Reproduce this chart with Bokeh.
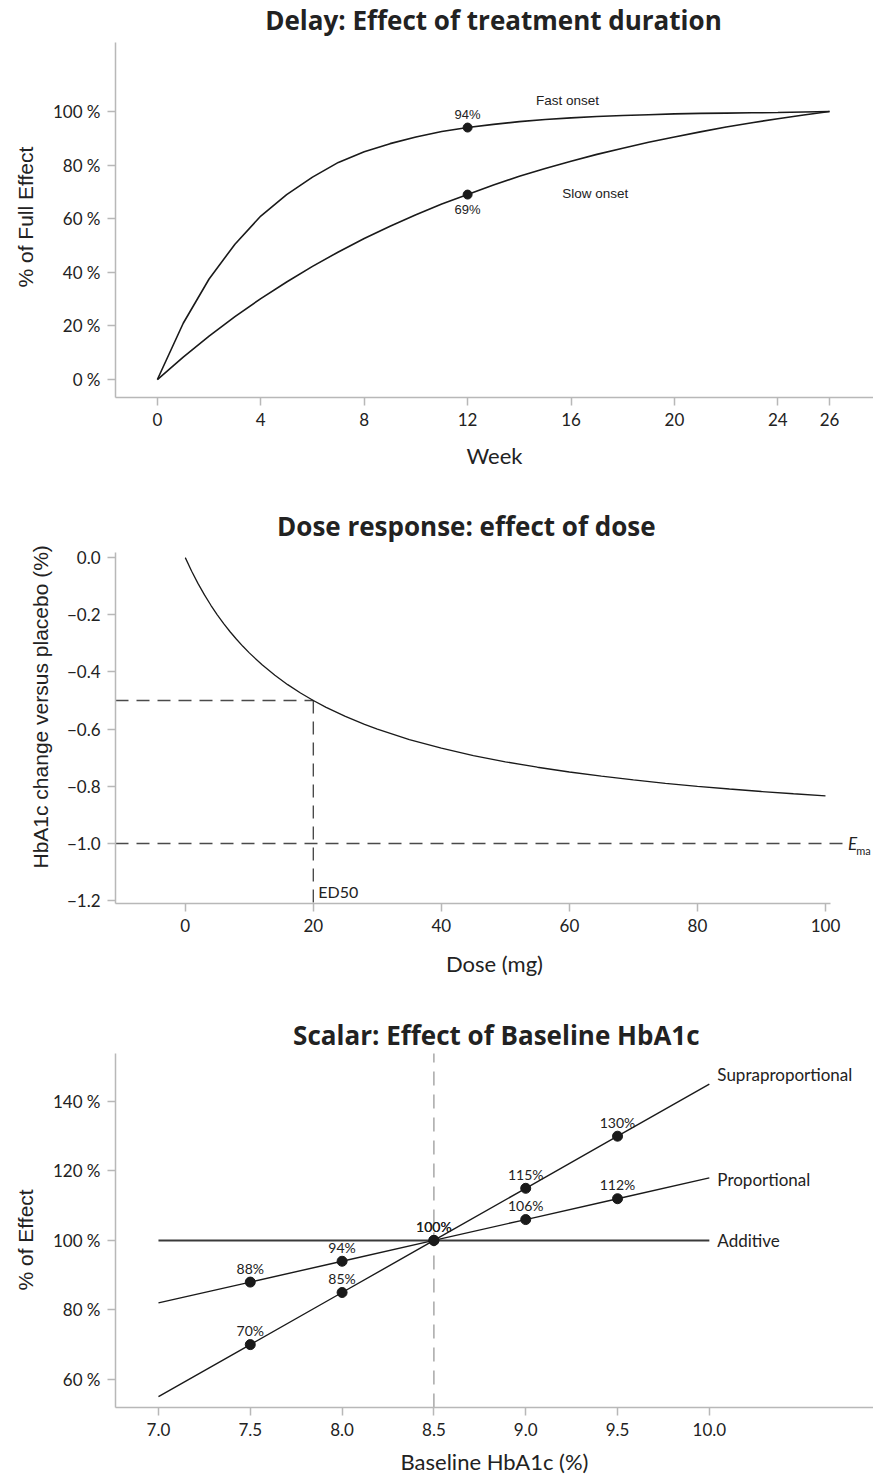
from bokeh.plotting import figure
from bokeh.layouts import column
from bokeh.models import FixedTicker, CustomJSTickFormatter, Label, ColumnDataSource, Title
from bokeh.core.properties import value
from bokeh.embed import file_html
from bokeh.resources import INLINE

# ---------------- data ----------------
# Panel 1: delay (weeks 0..26, % of full effect)
weeks = list(range(27))
fast_onset = [0, 21, 37.5, 50.5, 61, 69, 75.5, 81, 85, 88, 90.5, 92.5, 94,
              95.2, 96.2, 97, 97.6, 98.1, 98.5, 98.8, 99.1, 99.3, 99.4, 99.5, 99.6, 99.8, 100]
slow_onset = [0, 8.4, 16.2, 23.5, 30.2, 36.4, 42.2, 47.6, 52.6, 57.2, 61.5, 65.5, 69,
              72.6, 75.8, 78.7, 81.4, 84.0, 86.3, 88.5, 90.5, 92.4, 94.2, 95.8, 97.3, 98.7, 100]
marker_week = 12
week_ticks = [0, 4, 8, 12, 16, 20, 24, 26]
pct_ticks_1 = [0, 20, 40, 60, 80, 100]

# Panel 2: dose response
dose = [0, 1, 2, 3, 4, 5, 6, 7, 8, 9, 10, 12, 14, 16, 18, 20, 22, 25, 28, 30, 35, 40,
        45, 50, 55, 60, 65, 70, 75, 80, 85, 90, 95, 100]
hba1c_change = [0, -0.0476, -0.0909, -0.1304, -0.1667, -0.2, -0.2308, -0.2593, -0.2857,
                -0.3103, -0.3333, -0.375, -0.4118, -0.4444, -0.4737, -0.5, -0.5238, -0.5556,
                -0.5833, -0.6, -0.6364, -0.6667, -0.6923, -0.7143, -0.7333, -0.75, -0.7647,
                -0.7778, -0.7895, -0.8, -0.8095, -0.8182, -0.8261, -0.8333]
ed50 = 20
half_effect = -0.5
emax = -1.0
dose_ticks = [0, 20, 40, 60, 80, 100]
change_ticks = [0.0, -0.2, -0.4, -0.6, -0.8, -1.0, -1.2]

# Panel 3: scalar
baseline = [7.0, 7.5, 8.0, 8.5, 9.0, 9.5, 10.0]
supraproportional = [55, 70, 85, 100, 115, 130, 145]
proportional = [82, 88, 94, 100, 106, 112, 118]
additive = [100, 100, 100, 100, 100, 100, 100]
reference_baseline = 8.5
baseline_ticks = [7.0, 7.5, 8.0, 8.5, 9.0, 9.5, 10.0]
pct_ticks_3 = [60, 80, 100, 120, 140]

titles = ["Delay: Effect of treatment duration", "Dose response: effect of dose",
          "Scalar: Effect of Baseline HbA1c"]

# ---------------- styling helpers ----------------
TXT = "#222222"
AX = "#b8b8b8"
TICK_FONT = "Lato"
YLAB_FONT = "Liberation Sans"


def style(p, xlabel, ylabel, ylab_standoff, ylab_offset, xlab_standoff):
    p.outline_line_color = None
    p.xgrid.visible = False
    p.ygrid.visible = False
    p.background_fill_color = "white"
    p.border_fill_color = "white"
    for ax in (p.xaxis[0], p.yaxis[0]):
        ax.axis_line_color = AX
        ax.axis_line_width = 1.5
        ax.major_tick_line_color = AX
        ax.major_tick_line_width = 1.5
        ax.major_tick_out = 8
        ax.major_tick_in = 0
        ax.minor_tick_line_color = None
        ax.major_label_text_font = TICK_FONT
        ax.major_label_text_font_size = "17px"
        ax.major_label_text_color = TXT
        ax.major_label_standoff = 7
        ax.axis_label_text_font_style = "normal"
        ax.axis_label_text_color = TXT
    p.xaxis[0].axis_label = xlabel
    p.xaxis[0].axis_label_text_font = TICK_FONT
    p.xaxis[0].axis_label_text_font_size = "22px"
    p.xaxis[0].axis_label_standoff = xlab_standoff
    # y label as a side title so that it can sit lower than the frame centre
    p.add_layout(Title(text=ylabel, align="left", offset=ylab_offset,
                       vertical_align="middle", standoff=ylab_standoff,
                       text_font=YLAB_FONT, text_font_size="21px",
                       text_font_style="normal", text_color=TXT), "left")


def add_title(p, text, x, y):
    p.add_layout(Label(x=x, y=y, text=text, text_align="center", text_baseline="middle",
                       text_font="Open Sans", text_font_style="bold",
                       text_font_size="26px", text_color=TXT))


pct_fmt = CustomJSTickFormatter(code="return tick.toFixed(0) + ' %';")
dec_fmt = CustomJSTickFormatter(code="return (tick < -1e-9 ? '\u2212' : '') + Math.abs(tick).toFixed(1);")
one_fmt = CustomJSTickFormatter(code="return tick.toFixed(1);")
int_fmt = CustomJSTickFormatter(code="return tick.toFixed(0);")

# ---------------- panel 1 ----------------
y1_lo, y1_axis_top = -6.7, 125.7
p1 = figure(width=873, height=490, x_range=(-1.62, 27.7), y_range=(y1_lo, 141.4),
            min_border_left=115, min_border_right=0, min_border_top=0, min_border_bottom=93,
            output_backend="svg", toolbar_location=None)
style(p1, "Week", "% of Full Effect", 24, 110, 13)
add_title(p1, titles[0], 13.0, 134.0)
p1.yaxis[0].bounds = (y1_lo, y1_axis_top)
p1.xaxis[0].ticker = FixedTicker(ticks=week_ticks)
p1.xaxis[0].formatter = int_fmt
p1.yaxis[0].ticker = FixedTicker(ticks=pct_ticks_1)
p1.yaxis[0].formatter = pct_fmt

p1.line(weeks, fast_onset, line_color="#1a1a1a", line_width=1.6)
p1.line(weeks, slow_onset, line_color="#1a1a1a", line_width=1.6)
mk = [fast_onset[marker_week], slow_onset[marker_week]]
p1.scatter([marker_week, marker_week], mk, size=9, color="#1a1a1a")
src1a = ColumnDataSource(dict(x=[marker_week], y=[fast_onset[marker_week]],
                              t=[f"{fast_onset[marker_week]:.0f}%"]))
p1.text("x", "y", text="t", source=src1a, y_offset=-13, text_align="center",
        text_baseline="middle", text_font=value("Liberation Sans"), text_font_size="13px",
        text_color=TXT)
src1b = ColumnDataSource(dict(x=[marker_week], y=[slow_onset[marker_week]],
                              t=[f"{slow_onset[marker_week]:.0f}%"]))
p1.text("x", "y", text="t", source=src1b, y_offset=15, text_align="center",
        text_baseline="middle", text_font=value("Liberation Sans"), text_font_size="13px",
        text_color=TXT)
p1.add_layout(Label(x=15.86, y=104.1, text="Fast onset", text_align="center",
                    text_baseline="middle", text_font="Liberation Sans",
                    text_font_size="13.5px", text_color=TXT))
p1.add_layout(Label(x=16.94, y=69.4, text="Slow onset", text_align="center",
                    text_baseline="middle", text_font="Liberation Sans",
                    text_font_size="13.5px", text_color=TXT))

# ---------------- panel 2 ----------------
x2_start = -10.9
y2_lo, y2_axis_top = -1.21, 0.018
p2 = figure(width=873, height=505, x_range=(x2_start, 107.5), y_range=(y2_lo, 0.2348),
            min_border_left=115, min_border_right=0, min_border_top=0, min_border_bottom=92,
            output_backend="svg", toolbar_location=None)
style(p2, "Dose (mg)", "HbA1c change versus placebo (%)", 22, 35, 15)
add_title(p2, titles[1], 43.9, 0.112)
p2.xaxis[0].ticker = FixedTicker(ticks=dose_ticks)
p2.xaxis[0].formatter = int_fmt
p2.xaxis[0].bounds = (x2_start, 100.8)
p2.yaxis[0].bounds = (y2_lo, y2_axis_top)
p2.yaxis[0].ticker = FixedTicker(ticks=change_ticks)
p2.yaxis[0].formatter = dec_fmt

dash_col = "#4a4a4a"
p2.line([x2_start, ed50], [half_effect, half_effect], line_color=dash_col, line_width=1.4,
        line_dash="13 8")
p2.line([ed50, ed50], [half_effect, y2_lo], line_color=dash_col, line_width=1.4,
        line_dash="13 8")
p2.line([x2_start, 102.8], [emax, emax], line_color=dash_col, line_width=1.4,
        line_dash="13 8")
p2.line(dose, hba1c_change, line_color="#1a1a1a", line_width=1.3)
p2.add_layout(Label(x=ed50, y=-1.168, x_offset=5, text="ED50", text_align="left",
                    text_baseline="middle", text_font="Lato", text_font_size="16px",
                    text_color=TXT))
p2.add_layout(Label(x=103.5, y=emax, text="E", text_align="left", text_baseline="middle",
                    text_font="Lato", text_font_style="italic", text_font_size="17px",
                    text_color=TXT))
p2.add_layout(Label(x=104.8, y=emax - 0.025, text="ma", text_align="left",
                    text_baseline="middle", text_font="Lato", text_font_size="11px",
                    text_color=TXT))

# ---------------- panel 3 ----------------
y3_lo, y3_axis_top = 51.9, 153.8
p3 = figure(width=873, height=483, x_range=(6.766, 10.894), y_range=(y3_lo, 170.5),
            min_border_left=115, min_border_right=0, min_border_top=0, min_border_bottom=71,
            output_backend="svg", toolbar_location=None)
style(p3, "Baseline HbA1c (%)", "% of Effect", 24, 117, 9)
add_title(p3, titles[2], 8.84, 159.0)
p3.yaxis[0].bounds = (y3_lo, y3_axis_top)
p3.xaxis[0].ticker = FixedTicker(ticks=baseline_ticks)
p3.xaxis[0].formatter = one_fmt
p3.yaxis[0].ticker = FixedTicker(ticks=pct_ticks_3)
p3.yaxis[0].formatter = pct_fmt

p3.line([reference_baseline, reference_baseline], [y3_lo, y3_axis_top], line_color="#9a9a9a",
        line_width=1.3, line_dash="14 9")
p3.line(baseline, additive, line_color="#3a3a3a", line_width=2)
p3.line(baseline, proportional, line_color="#1a1a1a", line_width=1.4)
p3.line(baseline, supraproportional, line_color="#1a1a1a", line_width=1.4)

mx = baseline[1:6]
for series in (proportional, supraproportional):
    my = series[1:6]
    p3.scatter(mx, my, size=10, color="#1a1a1a")
    s = ColumnDataSource(dict(x=mx, y=my, t=[f"{v}%" for v in my]))
    p3.text("x", "y", text="t", source=s, y_offset=-14, text_align="center",
            text_baseline="middle", text_font=value("Lato"), text_font_size="14px",
            text_color=TXT)

end_src = ColumnDataSource(dict(x=[baseline[-1]] * 3,
                                y=[supraproportional[-1], proportional[-1], additive[-1]],
                                t=["Supraproportional", "Proportional", "Additive"],
                                yo=[-10, 2, 0]))
p3.text("x", "y", text="t", source=end_src, x_offset=8, y_offset="yo", text_align="left",
        text_baseline="middle", text_font=value("Lato"), text_font_size="17px",
        text_color=TXT)

layout = column(p1, p2, p3, spacing=0)
open("out.html", "w").write(file_html(layout, INLINE))
